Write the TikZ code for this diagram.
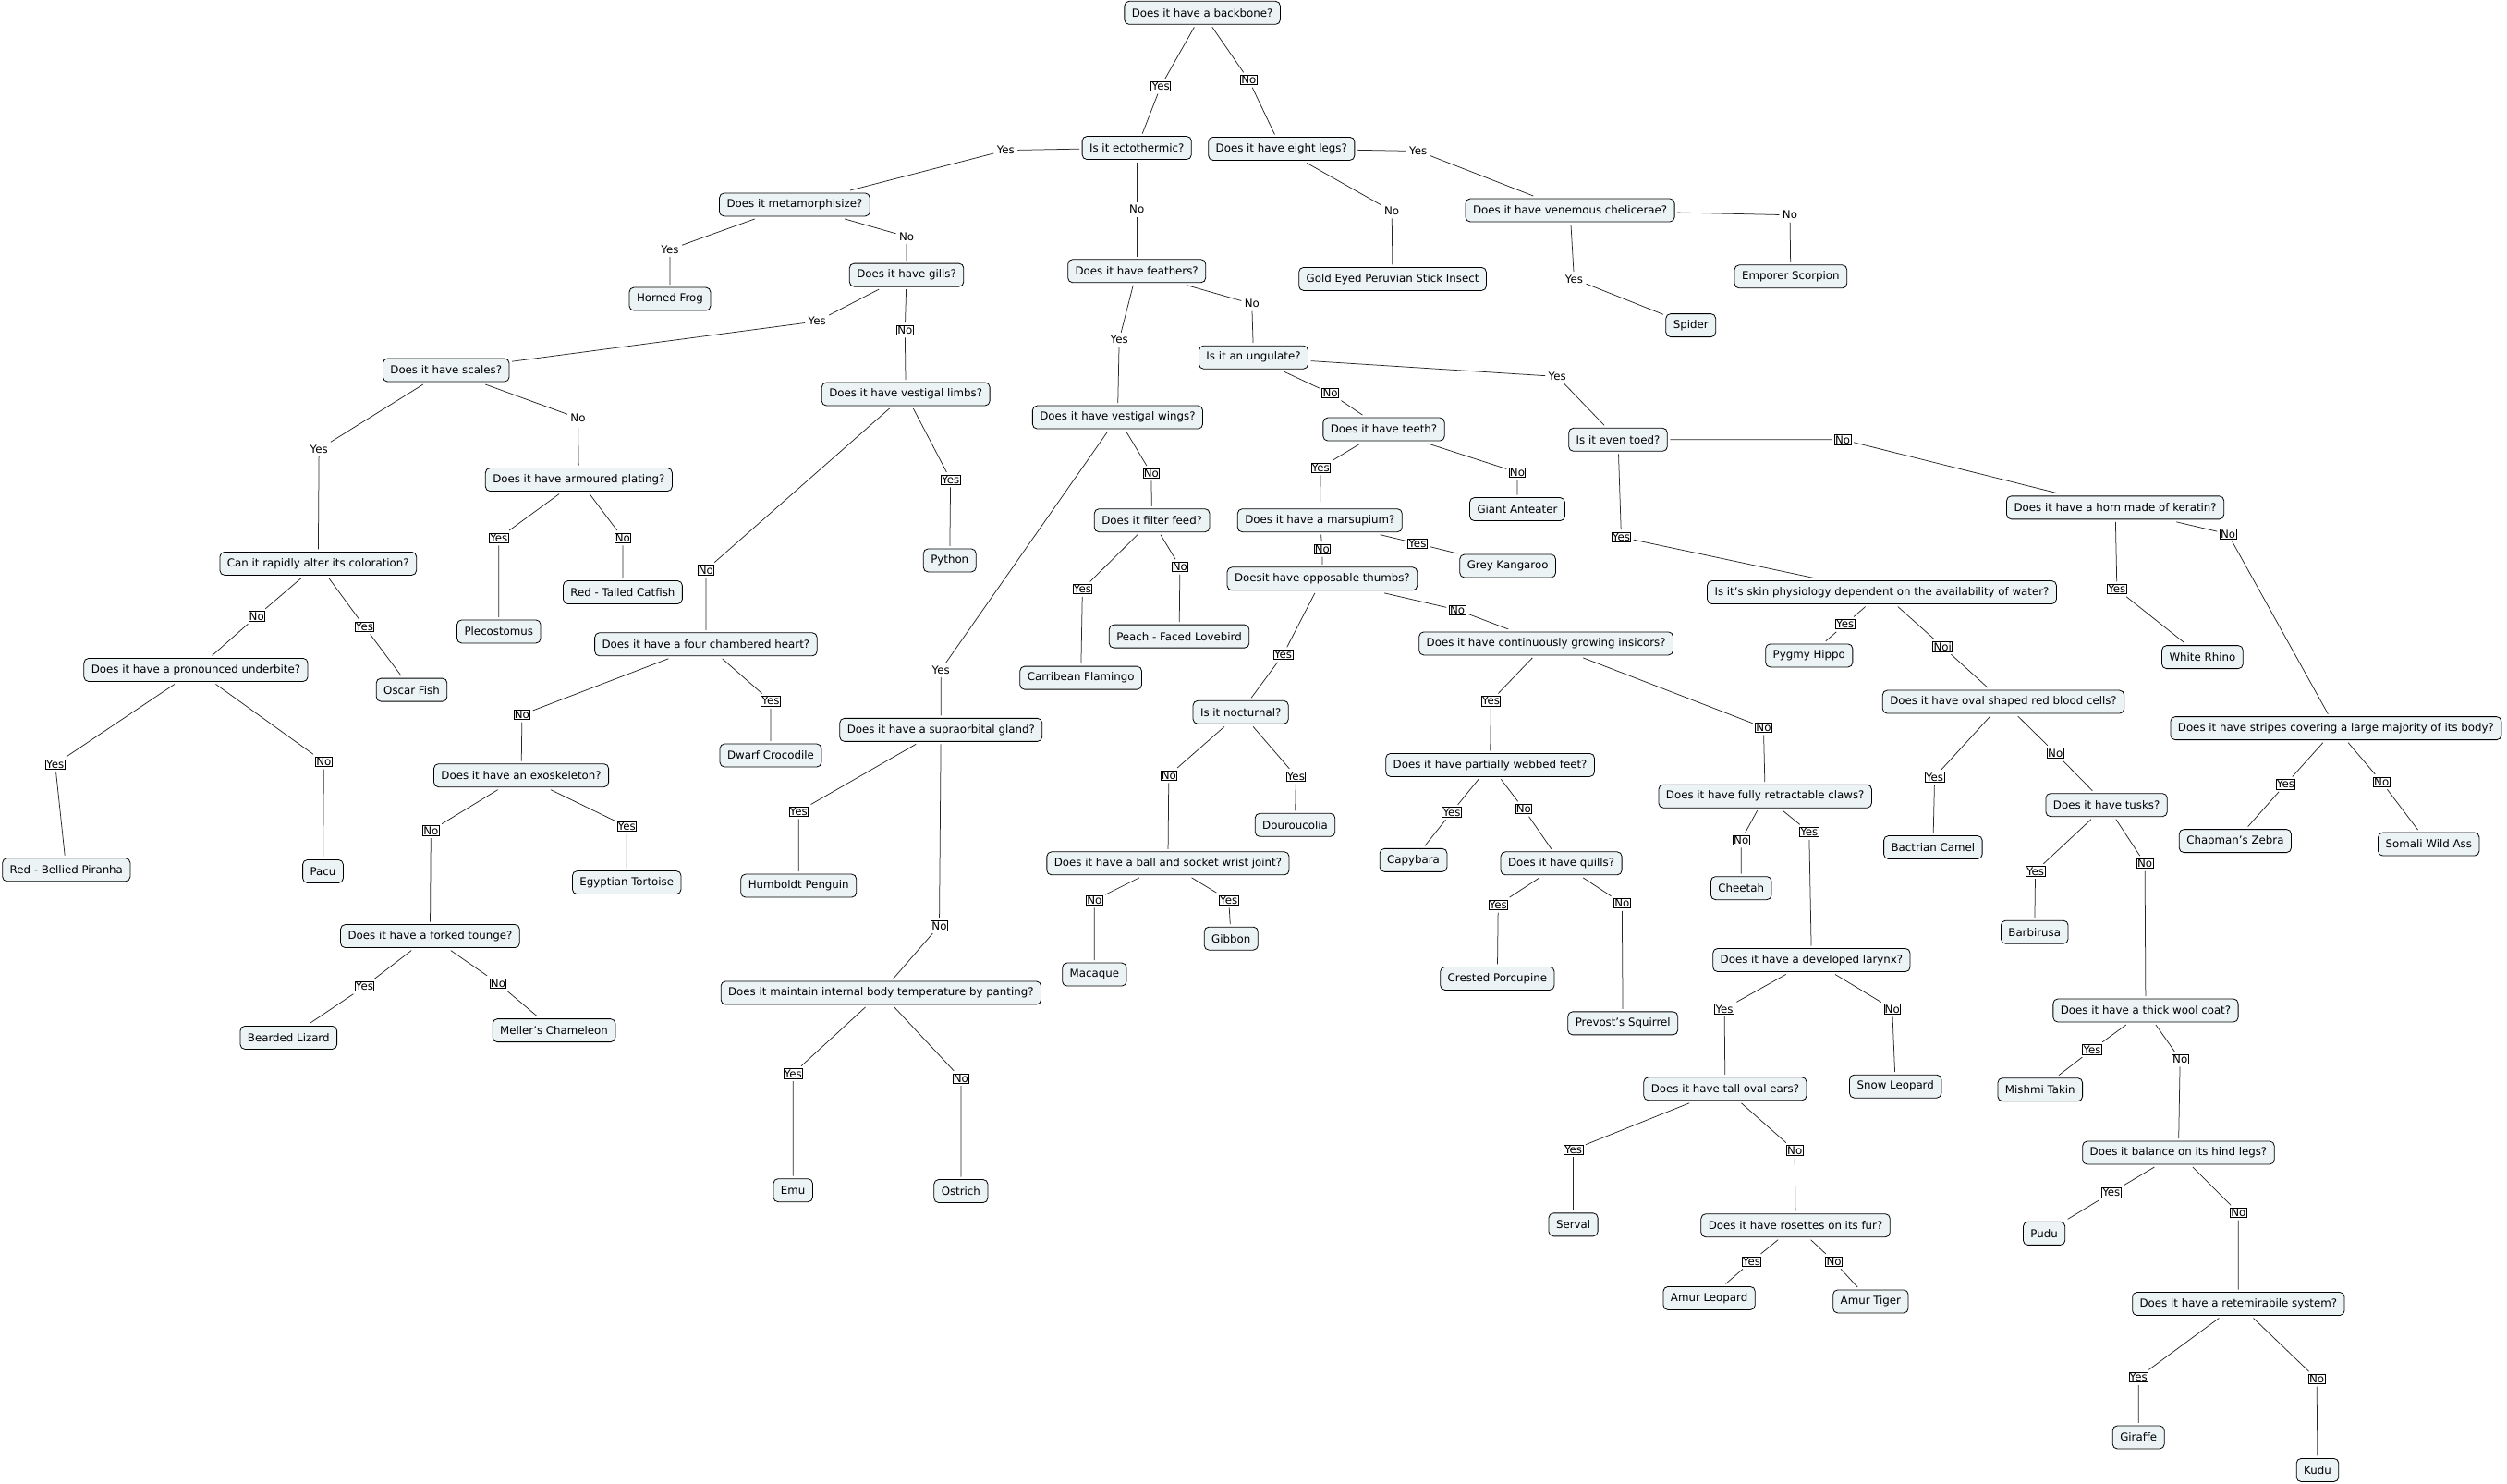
\documentclass[tikz,border=0pt]{standalone}
\usepackage{fontspec}
\setmainfont{DejaVu Sans}
\usepackage{xcolor}
\usepackage{tikz}

\definecolor{cmapfill}{RGB}{236,243,245}

\begin{document}
\begin{tikzpicture}[
  x=1.7302pt, y=-1.7302pt,
  every node/.style={font=\fontsize{11.8}{14}\selectfont},
  cblock/.style  ={draw, rounded corners=5pt, fill=cmapfill, line width=0.8pt,
                   inner xsep=8pt, minimum height=25pt, outer sep=3pt},
  boxlab/.style  ={draw, fill=white, line width=0.7pt, inner sep=0.8pt, outer sep=3pt},
  plainlab/.style={fill=white, inner sep=1.5pt, outer sep=2pt},
  lin/.style={line width=0.75pt, black!85},
]
\useasboundingbox (0,0) rectangle (1568,928);

%% ── Root ────────────────────────────────────────────────────────────────────
\node[cblock] (backbone) at (752, 8) {Does it have a backbone?};
\node[boxlab] (backboneY) at (726, 54) {Yes};
\node[boxlab] (backboneN) at (781, 50) {No};

%% ── Vertebrates: cold blooded ───────────────────────────────────────────────
\node[cblock] (ecto) at (711, 92.5) {Is it ectothermic?};
\node[plainlab] (ectoY) at (629, 94) {Yes};
\node[plainlab] (ectoN) at (711, 131) {No};

\node[cblock] (metam) at (497, 128) {Does it metamorphisize?};
\node[plainlab] (metamY) at (419, 156) {Yes};
\node[plainlab] (metamN) at (567, 148) {No};
\node[cblock] (hfrog) at (419, 187) {Horned Frog};

\node[cblock] (gills) at (567, 172) {Does it have gills?};
\node[plainlab] (gillsY) at (511, 201) {Yes};
\node[boxlab] (gillsN) at (566, 206.5) {No};

\node[cblock] (scales) at (279, 231.5) {Does it have scales?};
\node[plainlab] (scalesY) at (199.5, 281) {Yes};
\node[plainlab] (scalesN) at (361.5, 261.5) {No};

\node[cblock] (armour) at (362, 300) {Does it have armoured plating?};
\node[boxlab] (armourY) at (312, 336.5) {Yes};
\node[boxlab] (armourN) at (389.5, 336.5) {No};
\node[cblock] (pleco) at (312, 395) {Plecostomus};
\node[cblock] (catfish) at (389.5, 370.5) {Red - Tailed Catfish};

\node[cblock] (colour) at (199, 352.5) {Can it rapidly alter its coloration?};
\node[boxlab] (colourN) at (160.5, 385.5) {No};
\node[boxlab] (colourY) at (228, 392) {Yes};
\node[cblock] (oscar) at (257.5, 431.5) {Oscar Fish};

\node[cblock] (underbite) at (122.5, 419) {Does it have a pronounced underbite?};
\node[boxlab] (underbiteY) at (34.5, 478) {Yes};
\node[boxlab] (underbiteN) at (202.5, 476.5) {No};
\node[cblock] (piranha) at (41.5, 544) {Red - Bellied Piranha};
\node[cblock] (pacu) at (202, 545) {Pacu};

\node[cblock] (vlimbs) at (566.5, 246.5) {Does it have vestigal limbs?};
\node[boxlab] (vlimbsN) at (441.5, 356.5) {No};
\node[boxlab] (vlimbsY) at (594.5, 300) {Yes};
\node[cblock] (python) at (594, 350.5) {Python};

\node[cblock] (heart) at (441.5, 403) {Does it have a four chambered heart?};
\node[boxlab] (heartN) at (326.5, 447) {No};
\node[boxlab] (heartY) at (482, 438.5) {Yes};
\node[cblock] (dcroc) at (482, 472.5) {Dwarf Crocodile};

\node[cblock] (exo) at (326, 485) {Does it have an exoskeleton?};
\node[boxlab] (exoN) at (269.5, 519.5) {No};
\node[boxlab] (exoY) at (392, 517) {Yes};
\node[cblock] (tortoise) at (392, 552) {Egyptian Tortoise};

\node[cblock] (forked) at (269, 585.5) {Does it have a forked tounge?};
\node[boxlab] (forkedY) at (228, 617) {Yes};
\node[boxlab] (forkedN) at (311.5, 615) {No};
\node[cblock] (blizard) at (180.5, 649) {Bearded Lizard};
\node[cblock] (chameleon) at (346.5, 644.5) {Meller's Chameleon};

%% ── Vertebrates: birds ──────────────────────────────────────────────────────
\node[cblock] (feathers) at (711, 169.5) {Does it have feathers?};
\node[plainlab] (feathersY) at (700, 212.5) {Yes};
\node[plainlab] (feathersN) at (783, 190) {No};

\node[cblock] (vwings) at (699, 261) {Does it have vestigal wings?};
\node[plainlab] (vwingsY) at (588.5, 419) {Yes};
\node[boxlab] (vwingsN) at (720, 296) {No};

\node[cblock] (filter) at (720.5, 325.5) {Does it filter feed?};
\node[boxlab] (filterY) at (677, 368.5) {Yes};
\node[boxlab] (filterN) at (738, 354.5) {No};
\node[cblock] (flamingo) at (676, 424) {Carribean Flamingo};
\node[cblock] (lovebird) at (737.5, 398) {Peach - Faced Lovebird};

\node[cblock] (supra) at (588.5, 456.5) {Does it have a supraorbital gland?};
\node[boxlab] (supraY) at (499.5, 507.5) {Yes};
\node[boxlab] (supraN) at (587.5, 579) {No};
\node[cblock] (penguin) at (499.5, 554) {Humboldt Penguin};

\node[cblock] (panting) at (551, 621) {Does it maintain internal body temperature by panting?};
\node[boxlab] (pantingY) at (496, 671.5) {Yes};
\node[boxlab] (pantingN) at (601, 674.5) {No};
\node[cblock] (emu) at (496, 744.5) {Emu};
\node[cblock] (ostrich) at (601, 745) {Ostrich};

%% ── Vertebrates: mammals ────────────────────────────────────────────────────
\node[cblock] (ungulate) at (784, 223.5) {Is it an ungulate?};
\node[boxlab] (ungulateN) at (832, 246) {No};
\node[plainlab] (ungulateY) at (974, 235.5) {Yes};

\node[cblock] (teeth) at (865.5, 268.5) {Does it have teeth?};
\node[boxlab] (teethY) at (826, 292.5) {Yes};
\node[boxlab] (teethN) at (949, 295.5) {No};
\node[cblock] (anteater) at (949, 318.5) {Giant Anteater};

\node[cblock] (marsup) at (825.5, 325.5) {Does it have a marsupium?};
\node[boxlab] (marsupN) at (827, 343.5) {No};
\node[boxlab] (marsupY) at (886.5, 340) {Yes};
\node[cblock] (kangaroo) at (943, 354) {Grey Kangaroo};

\node[cblock] (thumbs) at (827, 362) {Doesit have opposable thumbs?};
\node[boxlab] (thumbsY) at (802.5, 409.5) {Yes};
\node[boxlab] (thumbsN) at (911.5, 381.5) {No};

\node[cblock] (noct) at (776, 445.5) {Is it nocturnal?};
\node[boxlab] (noctN) at (731, 485) {No};
\node[boxlab] (noctY) at (810.5, 485.5) {Yes};
\node[cblock] (dour) at (810, 516) {Douroucolia};

\node[cblock] (wrist) at (730.5, 540) {Does it have a ball and socket wrist joint?};
\node[boxlab] (wristN) at (684.5, 563) {No};
\node[boxlab] (wristY) at (768.5, 563) {Yes};
\node[cblock] (macaque) at (684.5, 609.5) {Macaque};
\node[cblock] (gibbon) at (770, 587) {Gibbon};

\node[cblock] (insic) at (967, 402.5) {Does it have continuously growing insicors?};
\node[boxlab] (insicY) at (932.5, 438.5) {Yes\ };
\node[boxlab] (insicN) at (1103, 455) {No};

\node[cblock] (webbed) at (932, 478.5) {Does it have partially webbed feet?};
\node[boxlab] (webbedY) at (908, 508) {Yes};
\node[boxlab] (webbedN) at (953, 506) {No};
\node[cblock] (capy) at (884, 538) {Capybara};

\node[cblock] (quills) at (976.5, 540) {Does it have quills?};
\node[boxlab] (quillsY) at (937, 566) {Yes};
\node[boxlab] (quillsN) at (1014.5, 565) {No};
\node[cblock] (porc) at (936.5, 612) {Crested Porcupine};
\node[cblock] (squirrel) at (1015, 640) {Prevost's Squirrel};

\node[cblock] (retract) at (1104, 498) {Does it have fully retractable claws?};
\node[boxlab] (retractN) at (1089, 525.5) {No};
\node[boxlab] (retractY) at (1131.5, 520.5) {Yes};
\node[cblock] (cheetah) at (1089, 555.5) {Cheetah};

\node[cblock] (larynx) at (1133, 600.5) {Does it have a developed larynx?};
\node[boxlab] (larynxY) at (1078.5, 631) {Yes};
\node[boxlab] (larynxN) at (1183.5, 631) {No};
\node[cblock] (snowleo) at (1185.5, 679.5) {Snow Leopard};

\node[cblock] (ears) at (1079, 681) {Does it have tall oval ears?};
\node[boxlab] (earsY) at (984, 719) {Yes};
\node[boxlab] (earsN) at (1122.5, 719.5) {No};
\node[cblock] (serval) at (984, 766) {Serval};

\node[cblock] (rosettes) at (1123, 766.5) {Does it have rosettes on its fur?};
\node[boxlab] (rosettesY) at (1095.5, 789) {Yes};
\node[boxlab] (rosettesN) at (1147, 789) {No};
\node[cblock] (amurleo) at (1069, 812) {Amur Leopard};
\node[cblock] (amurtig) at (1170, 814) {Amur Tiger};

%% ── Ungulates ───────────────────────────────────────────────────────────────
\node[cblock] (eventoed) at (1012, 275) {Is it even toed?};
\node[boxlab] (eventoedN) at (1152.5, 275) {No};
\node[boxlab] (eventoedY) at (1014, 336) {Yes};

\node[cblock] (keratin) at (1323, 317.5) {Does it have a horn made of keratin?};
\node[boxlab] (keratinY) at (1324, 368.5) {Yes};
\node[boxlab] (keratinN) at (1393.5, 334) {No};
\node[cblock] (rhino) at (1377.5, 411) {White Rhino};

\node[cblock] (stripes) at (1461, 455.5) {Does it have stripes covering a large majority of its body?};
\node[boxlab] (stripesY) at (1429.5, 490.5) {Yes};
\node[boxlab] (stripesN) at (1489.5, 489) {No};
\node[cblock] (zebra) at (1398, 526) {Chapman's Zebra};
\node[cblock] (wildass) at (1519, 528) {Somali Wild Ass};

\node[cblock] (skin) at (1177, 370.5) {Is it's skin physiology dependent on the availability of water?};
\node[boxlab] (skinY) at (1154, 390.5) {Yes};
\node[boxlab] (skinN) at (1215, 404.5) {Noi};
\node[cblock] (hippo) at (1131.5, 410) {Pygmy Hippo};

\node[cblock] (oval) at (1253, 439) {Does it have oval shaped red blood cells?};
\node[boxlab] (ovalY) at (1210, 486) {Yes};
\node[boxlab] (ovalN) at (1285.5, 471) {No};
\node[cblock] (camel) at (1209, 530) {Bactrian Camel};

\node[cblock] (tusks) at (1317.5, 503.5) {Does it have tusks?};
\node[boxlab] (tusksY) at (1273, 545) {Yes};
\node[boxlab] (tusksN) at (1341.5, 540) {No};
\node[cblock] (barb) at (1272.5, 583) {Barbirusa};

\node[cblock] (wool) at (1342, 632) {Does it have a thick wool coat?};
\node[boxlab] (woolY) at (1308.5, 656.5) {Yes};
\node[boxlab] (woolN) at (1363.5, 662.5) {No};
\node[cblock] (takin) at (1276, 681.5) {Mishmi Takin};

\node[cblock] (hind) at (1362.5, 721) {Does it balance on its hind legs?};
\node[boxlab] (hindY) at (1320.5, 746) {Yes};
\node[boxlab] (hindN) at (1400, 758.5) {No};
\node[cblock] (pudu) at (1278.5, 771.5) {Pudu};

\node[cblock] (rete) at (1400, 815.5) {Does it have a retemirabile system?};
\node[boxlab] (reteY) at (1337.5, 861.5) {Yes};
\node[boxlab] (reteN) at (1449, 862.5) {No};
\node[cblock] (giraffe) at (1337.5, 899) {Giraffe};
\node[cblock] (kudu) at (1449.5, 919.5) {Kudu};

%% ── Invertebrates ───────────────────────────────────────────────────────────
\node[cblock] (eightlegs) at (801.5, 93) {Does it have eight legs?};
\node[plainlab] (eightlegsY) at (887, 94.5) {Yes};
\node[plainlab] (eightlegsN) at (870.5, 132) {No};
\node[cblock] (stick) at (871, 174.5) {Gold Eyed Peruvian Stick Insect};

\node[cblock] (venom) at (982, 131.5) {Does it have venemous chelicerae?};
\node[plainlab] (venomY) at (984.5, 174.5) {Yes};
\node[plainlab] (venomN) at (1119.5, 134.5) {No};
\node[cblock] (spider) at (1057.5, 203.5) {Spider};
\node[cblock] (scorpion) at (1120, 173) {Emporer Scorpion};

%% ── Connectors (question -- answer -- next) ─────────────────────────────────
\draw[lin] (backbone) -- (backboneY) -- (ecto);
\draw[lin] (backbone) -- (backboneN) -- (eightlegs);

\draw[lin] (ecto) -- (ectoY) -- (metam);
\draw[lin] (ecto) -- (ectoN) -- (feathers);
\draw[lin] (metam) -- (metamY) -- (hfrog);
\draw[lin] (metam) -- (metamN) -- (gills);
\draw[lin] (gills) -- (gillsY) -- (scales);
\draw[lin] (gills) -- (gillsN) -- (vlimbs);
\draw[lin] (scales) -- (scalesY) -- (colour);
\draw[lin] (scales) -- (scalesN) -- (armour);
\draw[lin] (armour) -- (armourY) -- (pleco);
\draw[lin] (armour) -- (armourN) -- (catfish);
\draw[lin] (colour) -- (colourN) -- (underbite);
\draw[lin] (colour) -- (colourY) -- (oscar);
\draw[lin] (underbite) -- (underbiteY) -- (piranha);
\draw[lin] (underbite) -- (underbiteN) -- (pacu);
\draw[lin] (vlimbs) -- (vlimbsN) -- (heart);
\draw[lin] (vlimbs) -- (vlimbsY) -- (python);
\draw[lin] (heart) -- (heartN) -- (exo);
\draw[lin] (heart) -- (heartY) -- (dcroc);
\draw[lin] (exo) -- (exoN) -- (forked);
\draw[lin] (exo) -- (exoY) -- (tortoise);
\draw[lin] (forked) -- (forkedY) -- (blizard);
\draw[lin] (forked) -- (forkedN) -- (chameleon);

\draw[lin] (feathers) -- (feathersY) -- (vwings);
\draw[lin] (feathers) -- (feathersN) -- (ungulate);
\draw[lin] (vwings) -- (vwingsY) -- (supra);
\draw[lin] (vwings) -- (vwingsN) -- (filter);
\draw[lin] (filter) -- (filterY) -- (flamingo);
\draw[lin] (filter) -- (filterN) -- (lovebird);
\draw[lin] (supra) -- (supraY) -- (penguin);
\draw[lin] (supra) -- (supraN) -- (panting);
\draw[lin] (panting) -- (pantingY) -- (emu);
\draw[lin] (panting) -- (pantingN) -- (ostrich);

\draw[lin] (ungulate) -- (ungulateN) -- (teeth);
\draw[lin] (ungulate) -- (ungulateY) -- (eventoed);
\draw[lin] (teeth) -- (teethY) -- (marsup);
\draw[lin] (teeth) -- (teethN) -- (anteater);
\draw[lin] (marsup) -- (marsupN) -- (thumbs);
\draw[lin] (marsup) -- (marsupY) -- (kangaroo);
\draw[lin] (thumbs) -- (thumbsY) -- (noct);
\draw[lin] (thumbs) -- (thumbsN) -- (insic);
\draw[lin] (noct) -- (noctN) -- (wrist);
\draw[lin] (noct) -- (noctY) -- (dour);
\draw[lin] (wrist) -- (wristN) -- (macaque);
\draw[lin] (wrist) -- (wristY) -- (gibbon);
\draw[lin] (insic) -- (insicY) -- (webbed);
\draw[lin] (insic) -- (insicN) -- (retract);
\draw[lin] (webbed) -- (webbedY) -- (capy);
\draw[lin] (webbed) -- (webbedN) -- (quills);
\draw[lin] (quills) -- (quillsY) -- (porc);
\draw[lin] (quills) -- (quillsN) -- (squirrel);
\draw[lin] (retract) -- (retractN) -- (cheetah);
\draw[lin] (retract) -- (retractY) -- (larynx);
\draw[lin] (larynx) -- (larynxY) -- (ears);
\draw[lin] (larynx) -- (larynxN) -- (snowleo);
\draw[lin] (ears) -- (earsY) -- (serval);
\draw[lin] (ears) -- (earsN) -- (rosettes);
\draw[lin] (rosettes) -- (rosettesY) -- (amurleo);
\draw[lin] (rosettes) -- (rosettesN) -- (amurtig);

\draw[lin] (eventoed) -- (eventoedN) -- (keratin);
\draw[lin] (eventoed) -- (eventoedY) -- (skin);
\draw[lin] (keratin) -- (keratinY) -- (rhino);
\draw[lin] (keratin) -- (keratinN) -- (stripes);
\draw[lin] (stripes) -- (stripesY) -- (zebra);
\draw[lin] (stripes) -- (stripesN) -- (wildass);
\draw[lin] (skin) -- (skinY) -- (hippo);
\draw[lin] (skin) -- (skinN) -- (oval);
\draw[lin] (oval) -- (ovalY) -- (camel);
\draw[lin] (oval) -- (ovalN) -- (tusks);
\draw[lin] (tusks) -- (tusksY) -- (barb);
\draw[lin] (tusks) -- (tusksN) -- (wool);
\draw[lin] (wool) -- (woolY) -- (takin);
\draw[lin] (wool) -- (woolN) -- (hind);
\draw[lin] (hind) -- (hindY) -- (pudu);
\draw[lin] (hind) -- (hindN) -- (rete);
\draw[lin] (rete) -- (reteY) -- (giraffe);
\draw[lin] (rete) -- (reteN) -- (kudu);

\draw[lin] (eightlegs) -- (eightlegsY) -- (venom);
\draw[lin] (eightlegs) -- (eightlegsN) -- (stick);
\draw[lin] (venom) -- (venomY) -- (spider);
\draw[lin] (venom) -- (venomN) -- (scorpion);

\end{tikzpicture}
\end{document}
